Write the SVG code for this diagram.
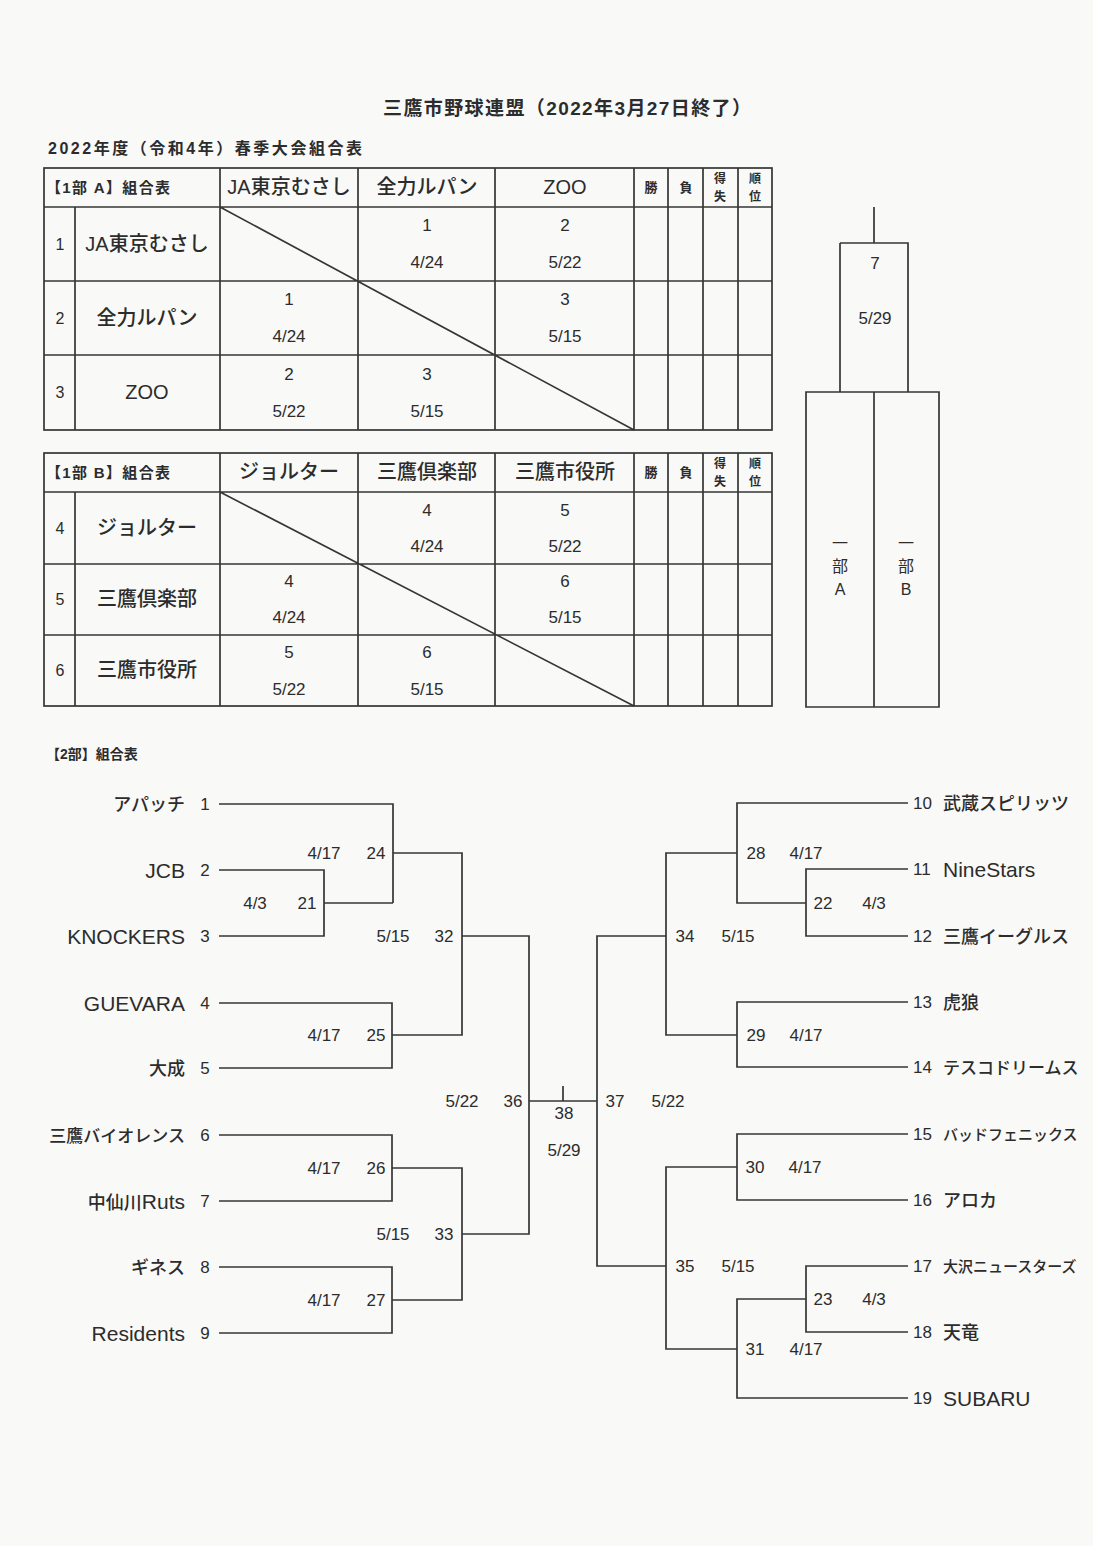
<svg xmlns="http://www.w3.org/2000/svg" width="1093" height="1546" viewBox="0 0 1093 1546">
<style>
text{font-family:"Liberation Sans","Noto Sans CJK JP",sans-serif;fill:#2c2c2c}
.jp{font-family:"Noto Sans CJK JP",sans-serif;font-weight:500}
.b{font-weight:bold}
.m{text-anchor:middle}
.e{text-anchor:end}
.ln{stroke:#363636;stroke-width:1.7;fill:none}
.n{font-size:17px}
.hd{font-size:20px;font-weight:500}
.sm{font-size:13px;font-weight:bold}
.xs{font-size:12px;font-weight:bold}
.la{font-size:21px}
.lb{font-size:18px}
.rn{font-size:16px}
</style>
<rect width="1093" height="1546" fill="#f9f9f7"/>
<g id="title">
<text x="567" y="115" class="m b" font-size="19" textLength="368">三鷹市野球連盟（2022年3月27日終了）</text>
<text x="48" y="154" class="b" font-size="16" textLength="314">2022年度（令和4年）春季大会組合表</text>
</g>

<g id="table-a">
<rect x="44" y="168" width="728" height="262" class="ln"/>
<path class="ln" d="M44 207H772M44 281H772M44 355H772M75 207V430M220 168V430M358 168V430M495 168V430M634 168V430M668 168V430M703 168V430M738 168V430M220 207L634 430"/>
<text x="46" y="193" class="b" font-size="15" textLength="124">【1部 A】組合表</text>
<text x="289" y="194" class="m hd">JA東京むさし</text>
<text x="427" y="194" class="m hd">全力ルパン</text>
<text x="565" y="194" class="m hd">ZOO</text>
<text x="651" y="192" class="m sm">勝</text>
<text x="686" y="192" class="m sm">負</text>
<text x="720" y="183" class="m xs">得</text><text x="720" y="201" class="m xs">失</text>
<text x="755" y="183" class="m xs">順</text><text x="755" y="201" class="m xs">位</text>
<g id="row-1"><text x="60" y="250" class="m rn">1</text><text x="147" y="251" class="m hd">JA東京むさし</text>
<text x="427" y="231" class="m n">1</text><text x="427" y="268" class="m n">4/24</text>
<text x="565" y="231" class="m n">2</text><text x="565" y="268" class="m n">5/22</text></g>
<g id="row-2"><text x="60" y="324" class="m rn">2</text><text x="147" y="325" class="m hd">全力ルパン</text>
<text x="289" y="305" class="m n">1</text><text x="289" y="342" class="m n">4/24</text>
<text x="565" y="305" class="m n">3</text><text x="565" y="342" class="m n">5/15</text></g>
<g id="row-3"><text x="60" y="398" class="m rn">3</text><text x="147" y="399" class="m hd">ZOO</text>
<text x="289" y="380" class="m n">2</text><text x="289" y="417" class="m n">5/22</text>
<text x="427" y="380" class="m n">3</text><text x="427" y="417" class="m n">5/15</text></g>
</g>

<g id="table-b">
<rect x="44" y="453" width="728" height="253" class="ln"/>
<path class="ln" d="M44 492H772M44 564H772M44 635H772M75 492V706M220 453V706M358 453V706M495 453V706M634 453V706M668 453V706M703 453V706M738 453V706M220 492L634 706"/>
<text x="46" y="478" class="b" font-size="15" textLength="124">【1部 B】組合表</text>
<text x="289" y="479" class="m hd">ジョルター</text>
<text x="427" y="479" class="m hd">三鷹倶楽部</text>
<text x="565" y="479" class="m hd">三鷹市役所</text>
<text x="651" y="477" class="m sm">勝</text>
<text x="686" y="477" class="m sm">負</text>
<text x="720" y="468" class="m xs">得</text><text x="720" y="486" class="m xs">失</text>
<text x="755" y="468" class="m xs">順</text><text x="755" y="486" class="m xs">位</text>
<g id="row-4"><text x="60" y="534" class="m rn">4</text><text x="147" y="535" class="m hd">ジョルター</text>
<text x="427" y="516" class="m n">4</text><text x="427" y="552" class="m n">4/24</text>
<text x="565" y="516" class="m n">5</text><text x="565" y="552" class="m n">5/22</text></g>
<g id="row-5"><text x="60" y="605" class="m rn">5</text><text x="147" y="606" class="m hd">三鷹倶楽部</text>
<text x="289" y="587" class="m n">4</text><text x="289" y="623" class="m n">4/24</text>
<text x="565" y="587" class="m n">6</text><text x="565" y="623" class="m n">5/15</text></g>
<g id="row-6"><text x="60" y="676" class="m rn">6</text><text x="147" y="677" class="m hd">三鷹市役所</text>
<text x="289" y="658" class="m n">5</text><text x="289" y="695" class="m n">5/22</text>
<text x="427" y="658" class="m n">6</text><text x="427" y="695" class="m n">5/15</text></g>
</g>

<g id="final-1bu">
<path class="ln" d="M874 207V243M840 243H908V392M840 243V392M806 392H939V707H806ZM874 392V707"/>
<text x="875" y="269" class="m n">7</text>
<text x="875" y="324" class="m n">5/29</text>
<text x="840" y="549" class="m" font-size="16">一</text><text x="840" y="572" class="m" font-size="16">部</text><text x="840" y="595" class="m" font-size="16">A</text>
<text x="906" y="549" class="m" font-size="16">一</text><text x="906" y="572" class="m" font-size="16">部</text><text x="906" y="595" class="m" font-size="16">B</text>
</g>

<text id="title-2bu" x="46" y="759" class="b" font-size="14">【2部】組合表</text>

<g id="connectors" class="ln">
<path d="M219 804H393V903M219 870H324V936H219M324 903H393"/>
<path d="M393 853H462V1035H392M219 1003H392V1068H219"/>
<path d="M462 936H529V1234H462M529 1101H597M563 1086V1101"/>
<path d="M219 1135H392V1201H219M392 1168H462V1300H392M219 1267H392V1333H219"/>
<path d="M908 803H737V903H806M908 869H806V936H908M737 853H666V1035H737M908 1002H737V1067H908"/>
<path d="M666 936H597V1266H666"/>
<path d="M908 1134H737V1200H908M737 1167H666V1349H737M908 1266H806V1332H908M806 1299H737V1398H908"/>
</g>

<g id="teams-left">
<g id="team-1"><text x="185" y="811" class="e jp lb">アパッチ</text><text x="205" y="810" class="m n">1</text></g>
<g id="team-2"><text x="185" y="878" class="e la">JCB</text><text x="205" y="876" class="m n">2</text></g>
<g id="team-3"><text x="185" y="944" class="e la">KNOCKERS</text><text x="205" y="942" class="m n">3</text></g>
<g id="team-4"><text x="185" y="1011" class="e la">GUEVARA</text><text x="205" y="1009" class="m n">4</text></g>
<g id="team-5"><text x="185" y="1075" class="e jp lb">大成</text><text x="205" y="1074" class="m n">5</text></g>
<g id="team-6"><text x="185" y="1142" class="e jp" font-size="17">三鷹バイオレンス</text><text x="205" y="1141" class="m n">6</text></g>
<g id="team-7"><text x="185" y="1209" class="e"><tspan class="jp" font-size="18">中仙川</tspan><tspan font-size="21">Ruts</tspan></text><text x="205" y="1207" class="m n">7</text></g>
<g id="team-8"><text x="185" y="1274" class="e jp lb">ギネス</text><text x="205" y="1273" class="m n">8</text></g>
<g id="team-9"><text x="185" y="1341" class="e la">Residents</text><text x="205" y="1339" class="m n">9</text></g>
</g>

<g id="teams-right">
<g id="team-10"><text x="913" y="809" class="n">10</text><text x="943" y="810" class="jp lb">武蔵スピリッツ</text></g>
<g id="team-11"><text x="913" y="875" class="n">11</text><text x="943" y="877" class="la">NineStars</text></g>
<g id="team-12"><text x="913" y="942" class="n">12</text><text x="943" y="943" class="jp lb">三鷹イーグルス</text></g>
<g id="team-13"><text x="913" y="1008" class="n">13</text><text x="943" y="1009" class="jp lb">虎狼</text></g>
<g id="team-14"><text x="913" y="1073" class="n">14</text><text x="943" y="1074" class="jp" font-size="17">テスコドリームス</text></g>
<g id="team-15"><text x="913" y="1140" class="n">15</text><text x="943" y="1140" class="jp" font-size="15">バッドフェニックス</text></g>
<g id="team-16"><text x="913" y="1206" class="n">16</text><text x="943" y="1207" class="jp lb">アロカ</text></g>
<g id="team-17"><text x="913" y="1272" class="n">17</text><text x="943" y="1272" class="jp" font-size="15">大沢ニュースターズ</text></g>
<g id="team-18"><text x="913" y="1338" class="n">18</text><text x="943" y="1339" class="jp lb">天竜</text></g>
<g id="team-19"><text x="913" y="1404" class="n">19</text><text x="943" y="1406" class="la">SUBARU</text></g>
</g>

<g id="matches">
<g id="m24"><text x="324" y="859" class="m n">4/17</text><text x="376" y="859" class="m n">24</text></g>
<g id="m21"><text x="255" y="909" class="m n">4/3</text><text x="307" y="909" class="m n">21</text></g>
<g id="m32"><text x="393" y="942" class="m n">5/15</text><text x="444" y="942" class="m n">32</text></g>
<g id="m25"><text x="324" y="1041" class="m n">4/17</text><text x="376" y="1041" class="m n">25</text></g>
<g id="m36"><text x="462" y="1107" class="m n">5/22</text><text x="513" y="1107" class="m n">36</text></g>
<g id="m26"><text x="324" y="1174" class="m n">4/17</text><text x="376" y="1174" class="m n">26</text></g>
<g id="m33"><text x="393" y="1240" class="m n">5/15</text><text x="444" y="1240" class="m n">33</text></g>
<g id="m27"><text x="324" y="1306" class="m n">4/17</text><text x="376" y="1306" class="m n">27</text></g>
<g id="m38"><text x="564" y="1119" class="m n">38</text><text x="564" y="1156" class="m n">5/29</text></g>
<g id="m37"><text x="615" y="1107" class="m n">37</text><text x="668" y="1107" class="m n">5/22</text></g>
<g id="m28"><text x="756" y="859" class="m n">28</text><text x="806" y="859" class="m n">4/17</text></g>
<g id="m22"><text x="823" y="909" class="m n">22</text><text x="874" y="909" class="m n">4/3</text></g>
<g id="m34"><text x="685" y="942" class="m n">34</text><text x="738" y="942" class="m n">5/15</text></g>
<g id="m29"><text x="756" y="1041" class="m n">29</text><text x="806" y="1041" class="m n">4/17</text></g>
<g id="m30"><text x="755" y="1173" class="m n">30</text><text x="805" y="1173" class="m n">4/17</text></g>
<g id="m35"><text x="685" y="1272" class="m n">35</text><text x="738" y="1272" class="m n">5/15</text></g>
<g id="m23"><text x="823" y="1305" class="m n">23</text><text x="874" y="1305" class="m n">4/3</text></g>
<g id="m31"><text x="755" y="1355" class="m n">31</text><text x="806" y="1355" class="m n">4/17</text></g>
</g>
</svg>
